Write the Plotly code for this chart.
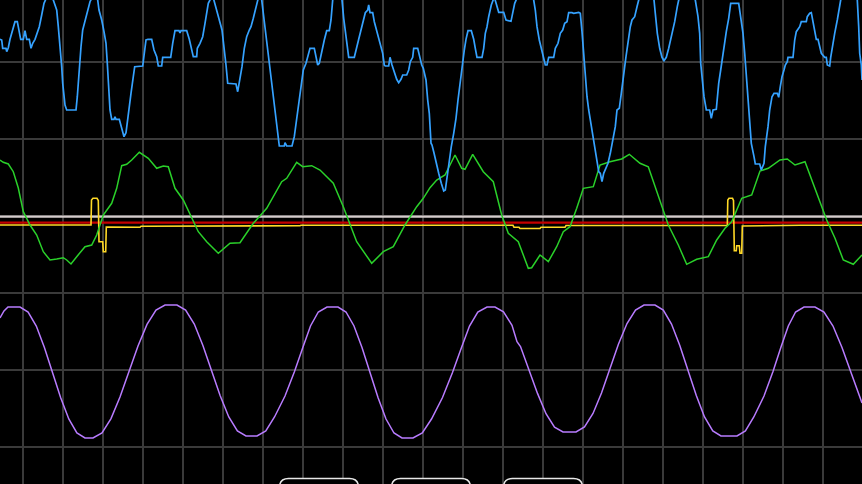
import plotly.graph_objects as go

# ---------------- data (screen-space units: x 0..862, y 0..484 downward) ----------------
blue_points = [(0,39.3),(1.7,40),(2.7,48.3),(6,48.3),(6.7,51.7),(8.3,47.7),(10,39.3),(11.7,33.3),(13.3,30),(15,21.7),(17.3,21.7),(18.3,28.3),(20.7,39.3),(23.3,39.3),(25,30.7),(26.7,39.3),(29.3,39.3),(31,48.3),(32.7,43.3),(35,39.3),(37.3,31.7),(39.3,26.7),(41.7,15),(44,3.3),(49,-8),(53.3,0),(55,5),(56.7,10),(58.3,26.7),(60,43.3),(61.7,66.7),(62.7,83.3),(65,105),(66.7,110),(76,110),(77.3,96.7),(79.3,66.7),(81,46.7),(82.7,30),(85,21.7),(87.3,13.3),(90,1.7),(94,-6),(97.7,0),(99,10),(101.7,20),(104,31.7),(106,43.3),(107.3,63.3),(108.3,80),(110,110),(111.7,119.3),(114,119.3),(115,116.7),(116,119.3),(119.3,119.3),(121.7,128.3),(124,136.7),(126,132.7),(128.3,111.7),(131,93.3),(133.3,76.7),(134.7,66.7),(142.7,66),(144,53.3),(146,40),(148,39.3),(151.7,39.3),(154,50),(156.7,56.7),(158.3,66),(161.7,66),(162.7,57.3),(170.7,57.3),(172.7,43.3),(175,30.7),(179,30.7),(180,33),(181,30.7),(186.7,30.7),(189.3,39.3),(191.7,48.3),(193.3,56.7),(196.7,56.7),(197.3,48.3),(200,43.3),(202.7,36.7),(205,23.3),(206.7,13.3),(208.3,3.3),(212.5,-5),(216,6.7),(219.3,20),(222,30),(224.3,48.3),(226,65),(227.7,83.3),(236,84),(237.7,91.7),(239.3,83.3),(242,66.7),(244.3,48.3),(246.7,36.7),(249.3,30),(251,26.7),(253.3,18.3),(256,6.7),(259.3,-6),(261.7,0),(264.3,21.7),(266.7,40),(268.7,60),(271,76.7),(273.3,93.3),(275.3,110),(277,123.3),(279.3,146),(284.3,146),(285,142.7),(286.7,146),(292,146),(294.3,136.7),(296,123.3),(298.7,101.7),(301,88.3),(303.3,70),(306,63.3),(308,55),(310,48.3),(314.3,48.3),(316,58.3),(317.7,65),(319.3,63.3),(322,50),(324.3,40),(326.7,30.7),(329.3,30.7),(331,20),(332.7,0),(337,-12),(342,0),(343.7,18.3),(346,36.7),(347.7,50),(348.7,57.3),(354.3,57.3),(356,49.3),(358.7,39.3),(361,30),(362.7,21.7),(365.3,12.7),(367.7,10),(368.7,5),(370,12.7),(372.7,12.7),(374.3,21.7),(376.7,30),(379.3,39.3),(382.7,53.3),(384.3,65),(385.3,66),(388.7,66),(390,57.3),(392,65),(394.3,71.7),(396.7,79.3),(398.7,82.7),(401,79.3),(402.7,75),(406.7,75),(408.7,70),(410.3,61.7),(412.7,57.3),(413.7,48.3),(417.7,48.3),(419.3,55),(421.7,65),(423.3,68.3),(426,80),(427.7,100),(429.3,113.3),(431,143.3),(432,145),(433.7,151.7),(436,163.3),(438.7,173.3),(441.3,183.3),(443.7,191),(445.3,190),(447,176.7),(448.7,163.3),(451.3,146.7),(453.7,133.3),(456,118.3),(458,100),(459.3,88.3),(461.3,75),(462.7,61.7),(464.3,50),(466,39.3),(468,30.7),(471.3,30.7),(473.7,39.3),(475.3,48.3),(477,57.3),(482,57.3),(483.7,48.3),(485.3,33.3),(487,26.7),(488.7,16.7),(491.3,5),(494.3,-3),(497,5),(498.7,12.3),(503.7,12.3),(506,20),(511,21.3),(512.7,13.3),(514.7,3.3),(525,-20),(533.7,0),(535.3,10),(537,26.7),(539.3,40),(541.3,48.3),(543.7,56.7),(545.3,65),(547,65),(548.7,57.3),(553.7,57.3),(555.3,48.3),(558,43.3),(560.3,33.3),(562.7,30),(564.7,23.3),(567,21.7),(568.7,12.7),(572,12.7),(573.7,13.3),(578.7,12.3),(580.3,13.3),(582,31.7),(583.7,53.3),(585.3,76.7),(587,96.7),(588.7,110),(591.3,126.7),(593.7,143.3),(596,156.7),(598.7,171.7),(600.3,173.3),(602,181.7),(603.7,173.3),(605.3,170),(608,163.3),(610.3,153.3),(612.7,140),(615.3,126.7),(617,110),(619.3,108.3),(621.3,93.3),(622.7,80),(624.7,66.7),(626,56.7),(628,40),(630.3,26.7),(632,20),(634.7,16.7),(637,6.7),(638.7,0),(646,-15),(654,0),(655.3,13.3),(657.3,33.3),(659.7,48.3),(662,57.3),(664,60.7),(666.3,57.3),(668.7,48.3),(670.7,40),(673,31.7),(674.7,21.7),(677.3,6.7),(678.7,0),(687,-15),(695.3,0),(698,16.7),(699.7,33.3),(700.7,63.3),(702,76.7),(704,96.7),(706.3,110),(709.7,110),(711.3,118.3),(713,110),(716.3,109.3),(717.3,96.7),(718.7,83.3),(720.7,70),(722,60),(724,48.3),(726.3,31.7),(728.7,18.3),(730.7,3.3),(738.7,3.3),(740.7,18.3),(743,33.3),(744.7,53.3),(746.3,76.7),(748,100),(749.7,126.7),(751.3,143.3),(754,156.7),(755.3,164),(759.7,164),(761.3,170),(764,163.3),(765.3,146.7),(768,126.7),(769.7,110),(772,96.7),(774,93.3),(777.3,93.3),(778.7,97.3),(780.3,86.7),(782,76.7),(784,70),(785.3,65),(787.3,61.7),(788,57.3),(793,57.3),(794.7,40),(796.3,31.7),(799.7,26.7),(801.3,21.7),(806.3,21.7),(807.3,16.7),(809.7,13.3),(811.3,12.7),(813,23.3),(814.7,33.3),(816.3,39.3),(818,39.3),(819.7,48.3),(821.3,53.3),(824.7,57.3),(826.3,57.3),(827.3,65),(829.7,66),(830.7,57.3),(832,48.3),(834.7,33.3),(837.3,20),(839.7,6.7),(840.7,0),(849,-15),(857.3,0),(858.7,26.7),(859.7,53.3),(861.3,65),(862,80)]

green_points = [(0,160),(3.3,162.3),(8.3,164),(13.3,171.7),(18.3,188),(23.3,211.7),(30,225),(36.7,235),(43.3,251.7),(50,260),(56.7,259),(63.3,257.7),(66.7,260),(71,264),(76.7,256.7),(85,246.7),(91.7,245),(96.7,235),(103.3,215),(111.7,203.3),(116.7,188.3),(121.7,165.7),(126.7,164.3),(131.7,160),(139.3,152.3),(143.3,155),(148.3,158.3),(156.7,168.3),(163.3,166),(168.3,166.7),(175,188.3),(183.3,200),(191.7,218.3),(198.3,231.7),(206.7,241.7),(218.3,253.3),(230,243.3),(240,242.7),(253.3,223.3),(266.7,208.3),(281.7,181.7),(286.7,178.3),(296.7,162.3),(302.7,166.7),(311.7,165.7),(320,170),(333.3,183.3),(343.3,206.7),(356.7,241.7),(371.7,263.3),(383.3,251.7),(393.3,246.7),(405,225),(416.7,206.7),(423.3,198.3),(430,187.7),(436.7,180),(445,175),(455,155),(461.7,168.3),(465,169.3),(472.7,154.3),(483.3,171.7),(493.3,181.7),(501.7,215),(508.3,233.3),(518.3,241.7),(528.3,268.3),(531.7,267.7),(540,255),(548.3,261.7),(556.7,246.7),(563.3,231.7),(570,226.7),(576.7,208.3),(583.3,188.3),(593.3,186.7),(600,165),(610,161.7),(621.7,159),(629.3,154.3),(640,163.3),(648.3,166.7),(653.3,181.7),(660,201.7),(668.3,225),(678.3,245),(686.7,264.3),(696.7,259.3),(708.3,256.7),(716.7,240),(725,228.3),(731.7,221.7),(741.7,198.3),(751.7,195),(760,171),(768.3,168.3),(780,160),(787.3,159),(795,165),(805,161.7),(810,175),(818.3,198.3),(826.7,220),(835,238.3),(843.3,260),(853.3,264.3),(862,255)]

yellow_points = [(0,225),(30,225),(31,224.3),(60,224.3),(61,225),(91,225),(91.5,200),(93,198.3),(97,198.3),(98.3,200.5),(99,241.7),(102.7,241.7),(103.3,251.7),(105.7,251.7),(106.3,227),(140,227.3),(141,226.3),(200,226.3),(201,225.7),(300,225.7),(301,225.3),(513,225.3),(514,227.3),(519,227.3),(520,228.5),(540,228.5),(541,227.3),(565,227.3),(566,225.5),(727.3,225.5),(727.8,200),(729,198.3),(732.5,198.3),(733.5,200.5),(734.3,250.7),(736.3,250.7),(736.7,245.7),(739.3,245.7),(740,253.3),(741.7,253.3),(742.3,226),(800,225.3),(862,225.3)]

purple_points = [(0,318),(4,311),(8,307),(20,307),(28.1,312),(36.3,326),(44.4,347.5),(52.5,372.5),(60.6,397.5),(68.8,419),(76.9,433),(85,438),(93,438),(102,433),(111,418.6),(120,397),(129,371.5),(138,346),(147,324.4),(156,310),(165,305),(177,305),(185.6,310),(194.3,324),(202.9,345.5),(211.5,370.5),(220.1,395.5),(228.8,417),(237.4,431),(246,436),(257,436),(265.8,431),(274.5,417),(285,396),(294.5,371.5),(303,347),(310.5,326),(318.3,312),(327,307),(338,307),(346,312),(354,326),(362,347.5),(370,372.5),(378,397.5),(386,419),(394,433),(402,438),(413,438),(422.3,433),(431.5,419),(442.5,397.5),(452.5,372.5),(461.5,347.5),(469.5,326),(477.8,312),(487,307),(495,307),(503.5,311.8),(512,325.3),(517,341.7),(520.5,346.5),(529,369.5),(537.5,393.4),(546,413.7),(554.5,427.2),(563,432),(576,432),(584.5,427),(593,413.5),(601.5,393),(610,368.5),(618.5,344),(627,323.5),(635.5,310),(644,305),(655,305),(663.3,310),(671.5,324),(679.8,345.5),(688,370.5),(696.3,395.5),(704.5,417),(712.8,431),(721,436),(737,436),(745.4,431),(753.8,417),(764,396),(773,371.5),(781,347),(788.3,326),(795.6,312),(804,307),(815,307),(824,312),(833,326),(842,347.5),(851,372.5),(860,397.5),(862,403)]

ref_white_level = 216.6
ref_red_level = 222.6

# bottom soft-key outlines: (left, right)
buttons = [(279.5, 358.5), (391.5, 470.5), (503.5, 582.5)]
button_top = 478.5

# ---------------- figure ----------------
W, H = 862, 484

def xs(pts):
    return [p[0] for p in pts]

def ys(pts):
    return [p[1] for p in pts]

fig = go.Figure()

fig.add_trace(go.Scatter(x=[0, W], y=[ref_white_level] * 2, mode="lines",
                         line=dict(color="#d4cccc", width=2.2), hoverinfo="skip"))
fig.add_trace(go.Scatter(x=[0, W], y=[ref_red_level] * 2, mode="lines",
                         line=dict(color="#c40000", width=2.2), hoverinfo="skip"))
fig.add_trace(go.Scatter(x=xs(purple_points), y=ys(purple_points), mode="lines",
                         line=dict(color="#b87cff", width=1.5), hoverinfo="skip"))
fig.add_trace(go.Scatter(x=xs(yellow_points), y=ys(yellow_points), mode="lines",
                         line=dict(color="#ffd926", width=1.6), hoverinfo="skip"))
fig.add_trace(go.Scatter(x=xs(green_points), y=ys(green_points), mode="lines",
                         line=dict(color="#2ad12a", width=1.5), hoverinfo="skip"))
fig.add_trace(go.Scatter(x=xs(blue_points), y=ys(blue_points), mode="lines",
                         line=dict(color="#35a2ff", width=1.7), hoverinfo="skip"))

shapes = []
r = 9
for (a, b) in buttons:
    t = button_top
    path = (f"M {a},{H+20} L {a},{t+r} Q {a},{t} {a+r},{t} "
            f"L {b-r},{t} Q {b},{t} {b},{t+r} L {b},{H+20} Z")
    shapes.append(dict(type="path", path=path, xref="x", yref="y",
                       line=dict(color="#e8e8e8", width=1.5), fillcolor="black",
                       layer="above"))

fig.update_layout(
    width=W, height=H,
    margin=dict(l=0, r=0, t=0, b=0),
    paper_bgcolor="black", plot_bgcolor="black",
    showlegend=False,
    shapes=shapes,
    xaxis=dict(range=[0, W], showticklabels=False, zeroline=False,
               showgrid=True, gridcolor="#3a3a3a", gridwidth=2,
               tick0=22.8, dtick=40, ticks=""),
    yaxis=dict(range=[H, 0], showticklabels=False, zeroline=False,
               showgrid=True, gridcolor="#3a3a3a", gridwidth=2,
               tick0=62.3, dtick=77, ticks=""),
)

fig.write_html(
    "out.html",
    config={"displayModeBar": False},
    post_script="document.body.style.margin='0';document.body.style.background='black';document.body.style.overflow='hidden';",
)
